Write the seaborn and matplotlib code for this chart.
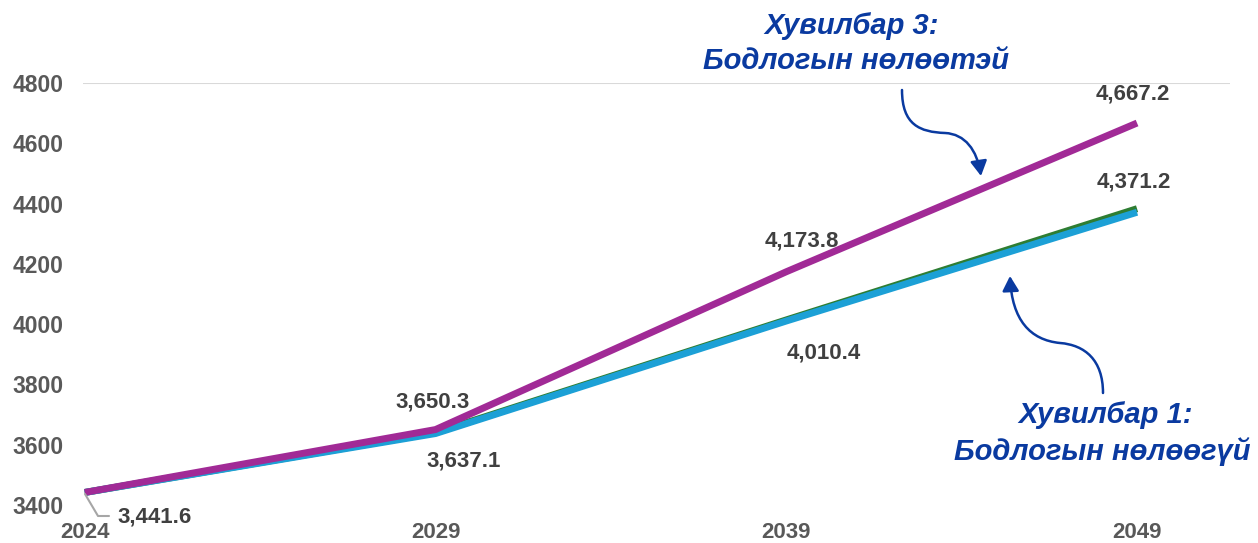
import numpy as np
import pandas as pd
import matplotlib.pyplot as plt
import seaborn as sns
from matplotlib.path import Path
from matplotlib.patches import FancyArrowPatch
from matplotlib.lines import Line2D

## Chart values
years = ["2024", "2029", "2039", "2049"]
scenario1 = [3441.6, 3637.1, 4010.4, 4371.2]   # Хувилбар 1 (blue)
scenario2 = [3441.6, 3640.0, 4014.0, 4383.0]   # hidden green line
scenario3 = [3441.6, 3650.3, 4173.8, 4667.2]   # Хувилбар 3 (purple)
yticks = [3400, 3600, 3800, 4000, 4200, 4400, 4600, 4800]

sns.set_theme(style="white")
plt.rcParams['font.family'] = ['Liberation Sans', 'DejaVu Sans']

W, H = 1258, 543
fig = plt.figure(figsize=(W / 100, H / 100), dpi=100)
ax = fig.add_axes([83 / W, 1 - 505 / H, (1230 - 83) / W, (505 - 83) / H])

pos = np.arange(len(years))
df = pd.DataFrame({
    "pos": np.tile(pos, 3),
    "value": scenario2 + scenario1 + scenario3,
    "series": ["s2"] * 4 + ["s1"] * 4 + ["s3"] * 4,
})
palette = {"s2": "#2E7D32", "s1": "#1CA0D6", "s3": "#A12A96"}
sns.lineplot(data=df, x="pos", y="value", hue="series", palette=palette,
             linewidth=5, legend=False, ax=ax, solid_capstyle="butt")

ax.set_xlim(-0.005, 3.265)
ax.set_ylim(3400, 4800)
ax.set_yticks(yticks)
ax.set_yticklabels([str(t) for t in yticks])
ax.set_xticks(pos)
ax.set_xticklabels(years)
ax.tick_params(axis="both", length=0, labelsize=16.5, labelcolor="#595959")
ax.tick_params(axis="y", pad=14)
ax.tick_params(axis="x", pad=12, labelsize=16)
for lab in ax.get_xticklabels() + ax.get_yticklabels():
    lab.set_fontweight("bold")
ax.set_xlabel("")
ax.set_ylabel("")
for s in ax.spines.values():
    s.set_visible(False)
ax.axhline(4800, color="#D9D9D9", linewidth=1.5, zorder=0)

## Data labels
lab_kw = dict(fontsize=16, fontweight="bold", color="#404040",
              textcoords="offset points", ha="center", va="center")
ax.annotate(f"{scenario3[1]:,.1f}", (1, scenario3[1]), xytext=(-2, 20), **lab_kw)
ax.annotate(f"{scenario1[1]:,.1f}", (1, scenario1[1]), xytext=(20, -20), **lab_kw)
ax.annotate(f"{scenario3[2]:,.1f}", (2, scenario3[2]), xytext=(11, 22), **lab_kw)
ax.annotate(f"{scenario1[2]:,.1f}", (2, scenario1[2]), xytext=(27, -23), **lab_kw)
ax.annotate(f"{scenario3[3]:,.1f}", (3, scenario3[3]), xytext=(-3, 21), **lab_kw)
ax.annotate(f"{scenario1[3]:,.1f}", (3, scenario1[3]), xytext=(-2, 22), **lab_kw)
ax.annotate(f"{scenario1[0]:,.1f}", (0, scenario1[0]), xytext=(50, -18), **lab_kw)


def px(x, y):
    return (x / W, 1 - y / H)


## leader line for the first label
lx, ly = zip(px(85, 494), px(98, 516), px(109, 516))
fig.lines.append(Line2D(lx, ly, transform=fig.transFigure,
                        color="#A6A6A6", lw=1.5))

## Scenario annotations
txt_color = "#0A3AA0"
note_kw = dict(fontsize=21, fontweight="bold", style="italic",
               color=txt_color, ha="center", va="center")
fig.text(*px(852, 26), "Хувилбар 3:", **note_kw)
fig.text(*px(856, 61), "Бодлогын нөлөөтэй", **note_kw)
fig.text(*px(1106, 415), "Хувилбар 1:", **note_kw)
fig.text(*px(1102, 452), "Бодлогын нөлөөгүй", **note_kw)

arrow1 = Path([px(902, 90), px(902, 125), px(920, 132), px(945, 133),
               px(965, 134), px(977, 150), px(981, 176)],
              [Path.MOVETO, Path.CURVE4, Path.CURVE4, Path.CURVE4,
               Path.CURVE4, Path.CURVE4, Path.CURVE4])
arrow2 = Path([px(1103, 393), px(1103, 360), px(1085, 345), px(1060, 343),
               px(1030, 340), px(1012, 320), px(1010, 276)],
              [Path.MOVETO, Path.CURVE4, Path.CURVE4, Path.CURVE4,
               Path.CURVE4, Path.CURVE4, Path.CURVE4])
for p in (arrow1, arrow2):
    fig.patches.append(FancyArrowPatch(path=p, transform=fig.transFigure,
                                       arrowstyle="-|>,head_length=9,head_width=5",
                                       color=txt_color, lw=1.8))

fig.savefig("out.png", dpi=100)
